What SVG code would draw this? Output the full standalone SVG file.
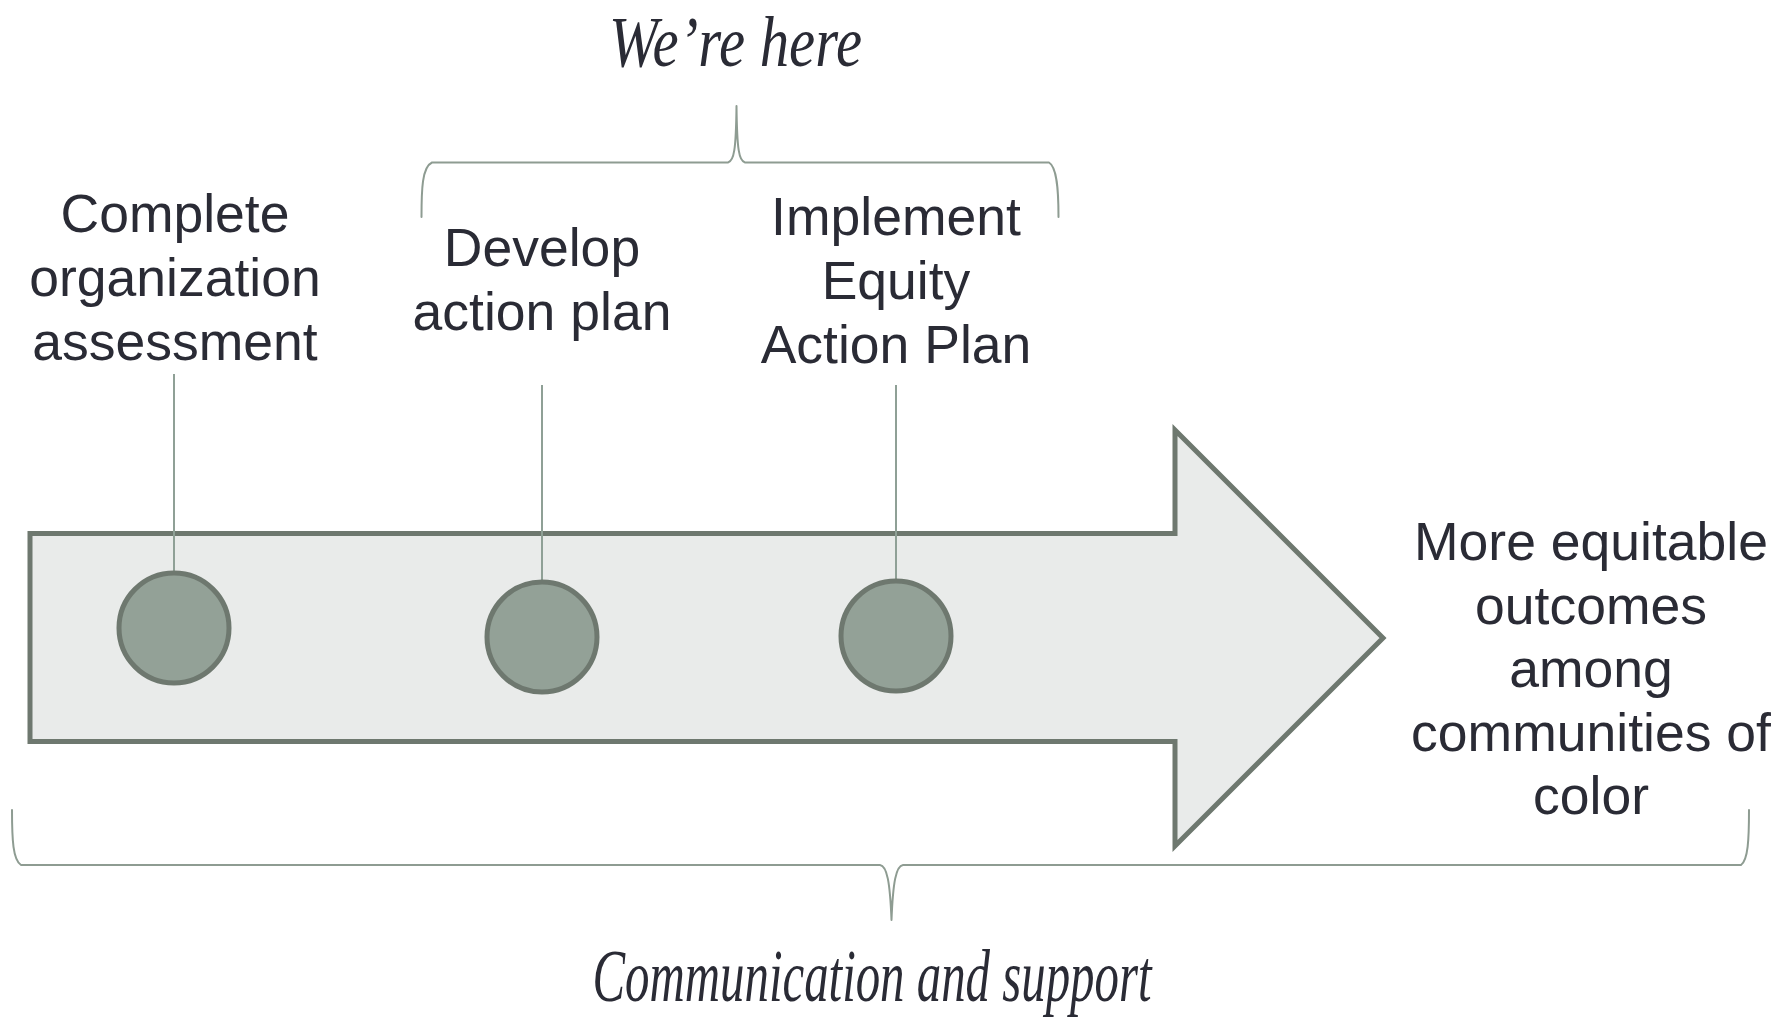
<svg xmlns="http://www.w3.org/2000/svg" width="1785" height="1024" viewBox="0 0 1785 1024">
  <style>
    .label { font-family: "Liberation Sans", Arial, sans-serif; font-size: 53.5px; fill: #2a2b35; text-anchor: middle; }
    .script { font-family: "Liberation Serif", "Times New Roman", serif; font-style: italic; fill: #2a2b35; text-anchor: middle; }
    .brace { fill: none; stroke: #8e9c92; stroke-width: 2; stroke-linecap: round; stroke-linejoin: round; }
    .stem { stroke: #8fa096; stroke-width: 2; }
    .dot { fill: #93a197; stroke: #6e786f; stroke-width: 5; }
  </style>

  <rect width="1785" height="1024" fill="#ffffff"/>

  <!-- Main timeline arrow -->
  <g id="timeline-arrow">
    <polygon points="30,533.5 1175,533.5 1175,430 1383,638 1175,846 1175,741.5 30,741.5"
             fill="#e9ebea" stroke="#6e786f" stroke-width="5" stroke-linejoin="miter"/>
  </g>

  <!-- Connectors: label stems and braces -->
  <g id="connectors">
    <line class="stem" x1="174" y1="374" x2="174" y2="573"/>
    <line class="stem" x1="542" y1="385" x2="542" y2="582"/>
    <line class="stem" x1="896" y1="385" x2="896" y2="581"/>
    <!-- Brace over the current phase -->
    <path class="brace" d="M421.5,217 C421.5,190 422,167 432,162.5 L728,162.5 C734,161 736,150 736.5,106 C737,150 739,161 745,162.5 L1049,162.5 C1057,167 1058.5,190 1058.5,217"/>
    <!-- Brace under the whole timeline -->
    <path class="brace" d="M12,810 C12,840 13,860 21,865 L880,865 C887,866 890,882 891.5,920 C893,882 896,866 903,865 L1741,865 C1748,860 1749,840 1749,810"/>
  </g>

  <!-- Milestones -->
  <g id="step-assessment">
    <circle class="dot" cx="174" cy="628" r="55"/>
    <text class="label" x="175" y="232">Complete</text>
    <text class="label" x="175" y="296">organization</text>
    <text class="label" x="175" y="360">assessment</text>
  </g>

  <g id="step-develop">
    <circle class="dot" cx="542" cy="637" r="55"/>
    <text class="label" x="542" y="266">Develop</text>
    <text class="label" x="542" y="330">action plan</text>
  </g>

  <g id="step-implement">
    <circle class="dot" cx="896" cy="636" r="55"/>
    <text class="label" x="896" y="235">Implement</text>
    <text class="label" x="896" y="299">Equity</text>
    <text class="label" x="896" y="363">Action Plan</text>
  </g>

  <g id="outcome">
    <text class="label" x="1591" y="560">More equitable</text>
    <text class="label" x="1591" y="623.5">outcomes</text>
    <text class="label" x="1591" y="687">among</text>
    <text class="label" x="1591" y="750.5">communities of</text>
    <text class="label" x="1591" y="814">color</text>
  </g>

  <g id="we-are-here">
    <text class="script" x="735.5" y="66" font-size="72" textLength="253" lengthAdjust="spacingAndGlyphs">We’re here</text>
  </g>

  <g id="communication-support">
    <text class="script" x="872" y="1001" font-size="74" textLength="559" lengthAdjust="spacingAndGlyphs">Communication and support</text>
  </g>
</svg>
